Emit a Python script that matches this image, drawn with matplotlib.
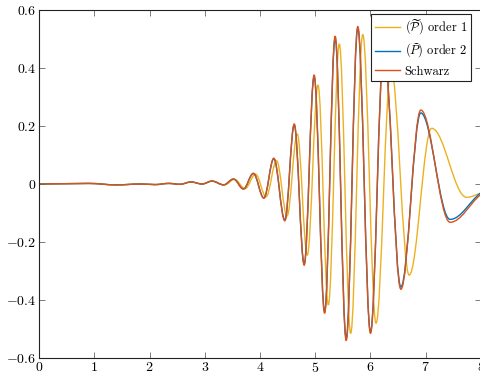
import numpy as np
import matplotlib
matplotlib.use("Agg")
import matplotlib.pyplot as plt
from matplotlib.path import Path
from matplotlib.patches import PathPatch
from matplotlib.lines import Line2D
from matplotlib.ticker import FuncFormatter

plt.rcParams['font.family'] = 'serif'
plt.rcParams['font.serif'] = ['cmr10', 'DejaVu Serif']
plt.rcParams['mathtext.fontset'] = 'cm'
plt.rcParams['axes.formatter.use_mathtext'] = True

# extrema (x, value); the curve passes flat through each
x_schwarz = [0.0, 0.9, 1.4, 1.85, 2.1, 2.35, 2.55, 2.75, 2.95, 3.13, 3.34, 3.52, 3.70,
             3.88, 4.07, 4.25, 4.45, 4.62, 4.80, 4.98, 5.17, 5.36, 5.56, 5.77, 6.00,
             6.24, 6.55, 6.91, 7.44, 8.0]
y_schwarz = [0.0, 0.002, -0.003, 0.0, -0.002, 0.002, -0.001, 0.007, 0.0, 0.010, -0.003,
             0.017, -0.017, 0.037, -0.049, 0.089, -0.127, 0.207, -0.28, 0.376, -0.446,
             0.51, -0.54, 0.543, -0.515, 0.47, -0.363, 0.255, -0.132, -0.036]

x_order2 = x_schwarz
y_order2 = [0.0, 0.002, -0.003, 0.0, -0.002, 0.002, -0.001, 0.007, 0.0, 0.010, -0.003,
            0.017, -0.017, 0.036, -0.048, 0.087, -0.124, 0.203, -0.275, 0.37, -0.44,
            0.503, -0.532, 0.537, -0.51, 0.465, -0.355, 0.245, -0.122, -0.030]

x_order1 = [0.0, 0.9, 1.4, 1.85, 2.1, 2.35, 2.55, 2.76, 2.96, 3.14, 3.36, 3.54, 3.73,
            3.92, 4.11, 4.30, 4.49, 4.675, 4.856, 5.05, 5.237, 5.435, 5.641, 5.86, 6.10,
            6.37, 6.70, 7.107, 7.74, 8.0]
y_order1 = [0.0, 0.002, -0.003, 0.0, -0.002, 0.002, -0.001, 0.007, 0.0, 0.010, -0.003,
            0.016, -0.016, 0.034, -0.044, 0.08, -0.11, 0.172, -0.245, 0.341, -0.417,
            0.483, -0.515, 0.515, -0.48, 0.40, -0.314, 0.192, -0.046, -0.032]

labels = [r'$(\widetilde{\mathcal{P}})$ order 1', r'$(\widetilde{P})$ order 2', 'Schwarz']
colors = ['#EDB120', '#0072BD', '#D95319']


def wave_path(xs, ys):
    verts = [(xs[0], ys[0])]
    codes = [Path.MOVETO]
    for i in range(len(xs) - 1):
        x0, y0, x1, y1 = xs[i], ys[i], xs[i + 1], ys[i + 1]
        d = 0.364 * (x1 - x0)
        if i == len(xs) - 2:
            c2 = (x1 - d, y1 - 0.3 * (y1 - y0))
        else:
            c2 = (x1 - d, y1)
        verts += [(x0 + d, y0), c2, (x1, y1)]
        codes += [Path.CURVE4] * 3
    return Path(verts, codes)


fig = plt.figure(figsize=(4.81, 3.78), dpi=100)
ax = fig.add_axes([39 / 481, 20 / 378, 442 / 481, 348 / 378])

for xs, ys, c in zip([x_order1, x_order2, x_schwarz], [y_order1, y_order2, y_schwarz], colors):
    ax.add_patch(PathPatch(wave_path(xs, ys), fill=False, edgecolor=c, lw=1.0))

ax.set_xlim(0, 8)
ax.set_ylim(-0.6, 0.6)
ax.set_xticks(range(0, 9))
ax.set_yticks(np.arange(-0.6, 0.61, 0.2))
ax.xaxis.set_major_formatter(FuncFormatter(lambda v, p: '$%g$' % round(v, 1)))
ax.yaxis.set_major_formatter(FuncFormatter(lambda v, p: '$%g$' % round(v, 1)))
ax.tick_params(direction='in', top=True, right=True, length=4, width=0.6,
               color='#666666', labelsize=10, pad=2)
for s in ax.spines.values():
    s.set_color('#222222')
    s.set_linewidth(0.8)
ax.spines['right'].set_visible(False)

handles = [Line2D([], [], color=c, lw=1.0) for c in colors]
leg = ax.legend(handles, labels, loc='upper right', fontsize=9, fancybox=False,
                edgecolor='#222222', framealpha=1, handlelength=2.0, handletextpad=0.4,
                labelspacing=0.4, borderpad=0.3, borderaxespad=0,
                bbox_to_anchor=(0.977, 0.9885))
leg.get_frame().set_linewidth(0.8)

fig.savefig('out.png', dpi=100)
